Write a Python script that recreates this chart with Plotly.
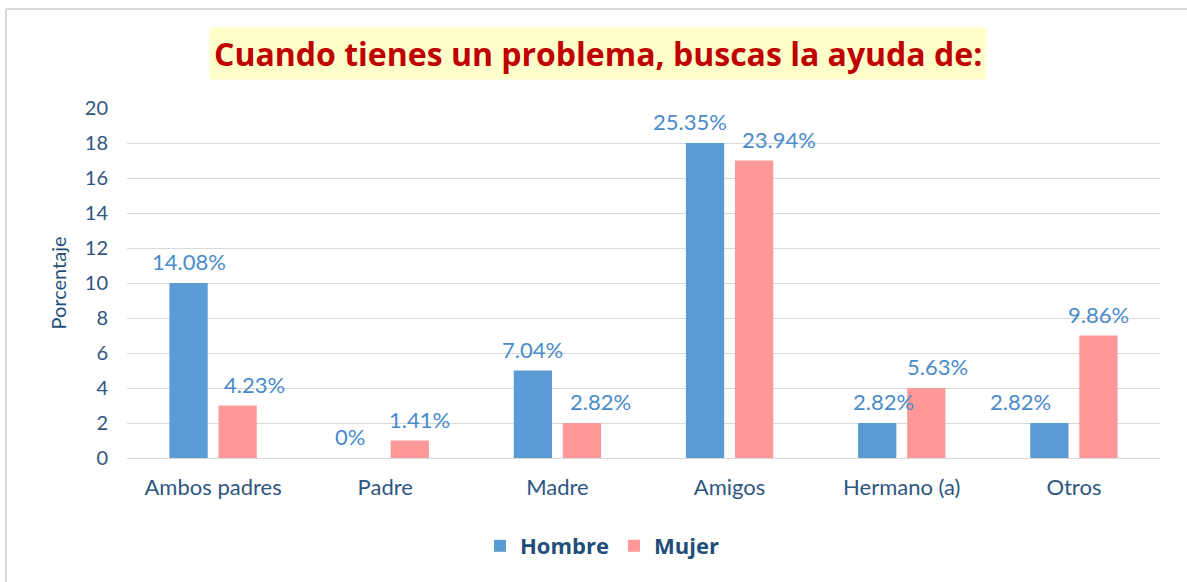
import plotly.graph_objects as go

categories = ["Ambos padres", "Padre", "Madre", "Amigos", "Hermano (a)", "Otros"]
hombre = [10, 0, 5, 18, 2, 2]
mujer = [3, 1, 2, 17, 4, 7]
hombre_labels = ["14.08%", "0%", "7.04%", "25.35%", "2.82%", "2.82%"]
mujer_labels = ["4.23%", "1.41%", "2.82%", "23.94%", "5.63%", "9.86%"]

# label nudges (pixels) to mimic the reference's label placement
hombre_nudge = [0, -11, 0, -15, 6, -29]
mujer_nudge = [17, 10, 19, 25, 11, 0]

W, H = 1187, 582
ML, MR, MT, MB = 127, 27, 108, 124
FONT = "Lato, 'Open Sans', sans-serif"
LABEL_COLOR = "#4A8BCB"
AXIS_COLOR = "#2F5681"
BARGAP, BARGROUPGAP = 0.43, 0.22

fig = go.Figure()
fig.add_trace(go.Bar(
    name="<b>Hombre</b>", x=categories, y=hombre,
    marker=dict(color="#5B9BD5", line=dict(width=0)),
))
fig.add_trace(go.Bar(
    name="<b>Mujer</b>", x=categories, y=mujer,
    marker=dict(color="#FF9999", line=dict(width=0)),
))

pw = W - ML - MR
ph = H - MT - MB
def px_x(p):
    return (p - ML) / pw
def px_y(p):
    return 1 - (p - MT) / ph

# slot offset of each bar within its category (pixels)
slot = pw / len(categories) * (1 - BARGAP) / 2
for labels, vals, nudge, sgn in [(hombre_labels, hombre, hombre_nudge, -1),
                                 (mujer_labels, mujer, mujer_nudge, 1)]:
    for c, v, t, n in zip(categories, vals, labels, nudge):
        fig.add_annotation(x=c, y=v, text=t, showarrow=False, xref="x", yref="y",
                           xanchor="center", yanchor="bottom",
                           xshift=sgn * slot / 2 + n, yshift=6,
                           font=dict(color=LABEL_COLOR, size=22, family=FONT))

# outer frame (left and top edges)
fig.add_shape(type="line", xref="paper", yref="paper",
              x0=px_x(6), x1=px_x(W + 5), y0=px_y(9), y1=px_y(9),
              line=dict(color="#D9D9D9", width=2))
fig.add_shape(type="line", xref="paper", yref="paper",
              x0=px_x(6), x1=px_x(6), y0=px_y(9), y1=px_y(H + 5),
              line=dict(color="#D9D9D9", width=2))

fig.add_annotation(
    text="<b>Cuando tienes un problema, buscas la ayuda de:</b>",
    xref="paper", yref="paper", x=px_x(598), y=px_y(53),
    xanchor="center", yanchor="middle", showarrow=False,
    font=dict(size=32, color="#C00000", family="'Open Sans', sans-serif"),
    bgcolor="#FFFFCC", borderpad=4,
)

fig.update_layout(
    width=W, height=H,
    margin=dict(l=ML, r=MR, t=MT, b=MB),
    paper_bgcolor="white", plot_bgcolor="white",
    barmode="group", bargap=BARGAP, bargroupgap=BARGROUPGAP,
    font=dict(family=FONT, color=AXIS_COLOR, size=18),
    legend=dict(orientation="h", x=px_x(602), xanchor="center", y=px_y(546), yanchor="middle",
                font=dict(size=22, color="#1F4E79", family="'Open Sans', sans-serif"),
                traceorder="normal", itemwidth=30),
    showlegend=True,
)

fig.update_yaxes(range=[0, 20], dtick=2, showgrid=True, gridcolor="#D9D9D9", gridwidth=1,
                 zeroline=True, zerolinecolor="#D9D9D9", zerolinewidth=1,
                 tickfont=dict(size=20, color=AXIS_COLOR), ticks="", ticklabelstandoff=18,
                 title=dict(text="Porcentaje", font=dict(size=20, color="#1F4E79"), standoff=12),
                 showline=False)
fig.update_xaxes(tickfont=dict(size=22, color=AXIS_COLOR), showline=True,
                 linecolor="#D9D9D9", linewidth=1, ticks="", ticklabelstandoff=10)

fig.write_html("out.html", config={"displayModeBar": False},
               post_script="document.body.style.margin='0';document.body.style.padding='0';")
